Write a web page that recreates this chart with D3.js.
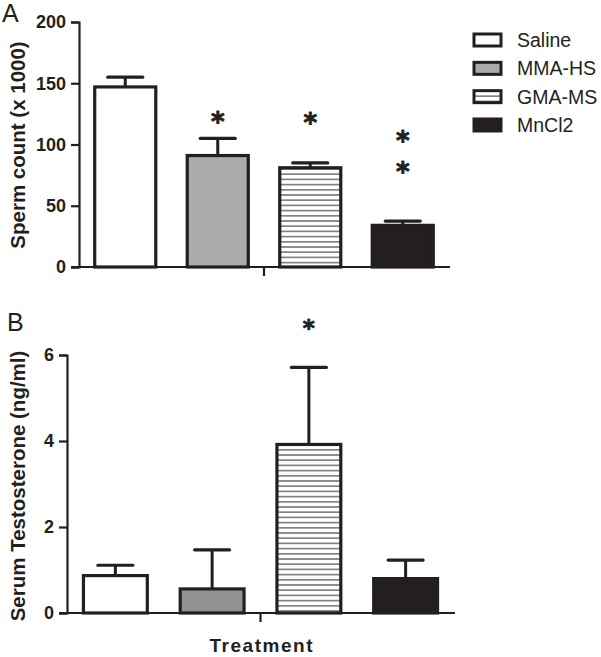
<!DOCTYPE html>
<html>
<head>
<meta charset="utf-8">
<script src="https://cdn.jsdelivr.net/npm/d3@7"></script>
<style>
  html, body { margin: 0; padding: 0; background: #fff; }
  svg { display: block; font-family: "Liberation Sans", Arial, sans-serif; }
  .tick text { font-size: 18px; font-weight: bold; font-family: "Liberation Sans", Arial, sans-serif; }
</style>
</head>
<body>
<svg id="chart" width="601" height="657"></svg>
<script>
// ---------- data ----------
const categories = ["Saline", "MMA-HS", "GMA-MS", "MnCl2"];
const spermMean = [147, 91, 81, 34];
const spermErr  = [8, 14, 4, 3.5];
const spermStars = [0, 1, 1, 2];
const spermTicks = [0, 50, 100, 150, 200];

const testoMean = [0.87, 0.56, 3.92, 0.80];
const testoErr  = [0.24, 0.91, 1.79, 0.43];
const testoStars = [0, 0, 1, 0];
const testoTicks = [0, 2, 4, 6];

const panelLabels = ["A", "B"];
const yLabels = ["Sperm count (x 1000)", "Serum Testosterone (ng/ml)"];
const xLabel = "Treatment";

// ---------- styles ----------
const ink = "#231f20";
const fills = { "Saline": "#ffffff", "MMA-HS": "#a9aaac", "GMA-MS": "url(#hatch)", "MnCl2": ink };
const fillsB = { "Saline": "#ffffff", "MMA-HS": "#909294", "GMA-MS": "url(#hatch)", "MnCl2": ink };

const svg = d3.select("#chart");
const defs = svg.append("defs");
const pat = defs.append("pattern").attr("id", "hatch")
  .attr("patternUnits", "userSpaceOnUse").attr("width", 10).attr("height", 5.2);
pat.append("rect").attr("width", 10).attr("height", 5.2).attr("fill", "#fff");
pat.append("line").attr("x1", 0).attr("x2", 10).attr("y1", 2.6).attr("y2", 2.6)
  .attr("stroke", "#3a3a3a").attr("stroke-width", 1.1);

function panel(opts) {
  const { means, errs, stars, ticks, yDomain, yRange, xRange, axisX, fillMap,
          starFont, starRows, label, labelPos, ylab, ylabPos } = opts;
  const g = svg.append("g");
  const y = d3.scaleLinear().domain(yDomain).range(yRange);
  const x = d3.scaleBand().domain(categories).range(xRange)
    .paddingInner(0.34).paddingOuter(0.17);
  const y0 = y(0);

  // y axis
  const yAxis = d3.axisLeft(y).tickValues(ticks).tickSize(8).tickPadding(5)
    .tickFormat(d3.format("d"));
  const ya = g.append("g").attr("transform", `translate(${axisX},0)`).call(yAxis);
  ya.attr("font-size", null).attr("font-family", null);
  ya.select(".domain").attr("stroke", ink).attr("stroke-width", 2.2);
  ya.selectAll(".tick line").attr("stroke", ink).attr("stroke-width", 2.2);
  ya.selectAll(".tick text").attr("fill", ink);

  // bars
  const data = categories.map((c, i) => ({ c, v: means[i], e: errs[i], s: stars[i] }));
  const bw = x.bandwidth();
  // error bars
  data.forEach(d => {
    const cx = x(d.c) + bw / 2;
    g.append("line").attr("x1", cx).attr("x2", cx)
      .attr("y1", y(d.v)).attr("y2", y(d.v + d.e))
      .attr("stroke", ink).attr("stroke-width", 3);
    g.append("line").attr("x1", cx - 17.5).attr("x2", cx + 17.5)
      .attr("y1", y(d.v + d.e)).attr("y2", y(d.v + d.e))
      .attr("stroke", ink).attr("stroke-width", 3.2).attr("stroke-linecap", "round");
  });
  g.selectAll("rect.bar").data(data).join("rect").attr("class", "bar")
    .attr("x", d => x(d.c)).attr("width", bw)
    .attr("y", d => y(d.v)).attr("height", d => y0 - y(d.v))
    .attr("fill", d => fillMap[d.c]).attr("stroke", ink).attr("stroke-width", 3.2);

  // x axis line with centre tick
  g.append("line").attr("x1", axisX - 8).attr("x2", xRange[1] + 1)
    .attr("y1", y0).attr("y2", y0).attr("stroke", ink).attr("stroke-width", 2.2);
  const mid = (xRange[0] + xRange[1]) / 2;
  g.append("line").attr("x1", mid).attr("x2", mid).attr("y1", y0).attr("y2", y0 + 9)
    .attr("stroke", ink).attr("stroke-width", 2.2);

  // significance stars
  data.forEach((d, i) => {
    const rows = starRows[i];
    const cx = x(d.c) + bw / 2;
    for (let k = 0; k < d.s; k++) {
      g.append("text").attr("x", cx).attr("y", rows[k] + starFont * 0.56)
        .attr("text-anchor", "middle").attr("font-size", starFont)
        .attr("font-family", "'DejaVu Sans', sans-serif")
        .attr("font-weight", "bold").attr("fill", ink)
        .attr("stroke", ink).attr("stroke-width", 0.9).attr("stroke-linejoin", "round")
        .text("*");
    }
  });

  // panel label
  g.append("text").attr("x", labelPos[0]).attr("y", labelPos[1])
    .attr("font-size", 25).attr("fill", ink).text(label);

  // y label
  g.append("text").attr("transform", `translate(${ylabPos[0]},${ylabPos[1]}) rotate(-90)`)
    .attr("text-anchor", "middle").attr("font-size", 20.5).attr("font-weight", "bold")
    .attr("fill", ink).text(ylab);
  return { x, y };
}

panel({
  means: spermMean, errs: spermErr, stars: spermStars, ticks: spermTicks,
  yDomain: [0, 200], yRange: [267, 22], xRange: [79, 449], axisX: 79,
  fillMap: fills, starFont: 26,
  starRows: [[], [116], [117], [135, 166]],
  label: panelLabels[0], labelPos: [2, 22], ylab: yLabels[0], ylabPos: [25, 145]
});

panel({
  means: testoMean, errs: testoErr, stars: testoStars, ticks: testoTicks,
  yDomain: [0, 6], yRange: [613, 355], xRange: [67, 454], axisX: 67,
  fillMap: fillsB, starFont: 23,
  starRows: [[], [], [323], []],
  label: panelLabels[1], labelPos: [7, 331], ylab: yLabels[1], ylabPos: [25, 486]
});

// x axis title
svg.append("text").attr("x", 261).attr("y", 652).attr("text-anchor", "middle")
  .attr("font-size", 19).attr("font-weight", "bold").attr("fill", ink)
  .attr("textLength", 103).attr("lengthAdjust", "spacing").text(xLabel);

// legend
const leg = svg.append("g");
const rowY = d3.scalePoint().domain(categories).range([40, 125]);
categories.forEach(c => {
  const cy = rowY(c);
  leg.append("rect").attr("x", 474).attr("y", cy - 6).attr("width", 27).attr("height", 12)
    .attr("fill", fills[c]).attr("stroke", ink).attr("stroke-width", 3);
  leg.append("text").attr("x", 517).attr("y", cy + 7).attr("font-size", 19.5)
    .attr("fill", ink).text(c);
});
</script>
</body>
</html>
